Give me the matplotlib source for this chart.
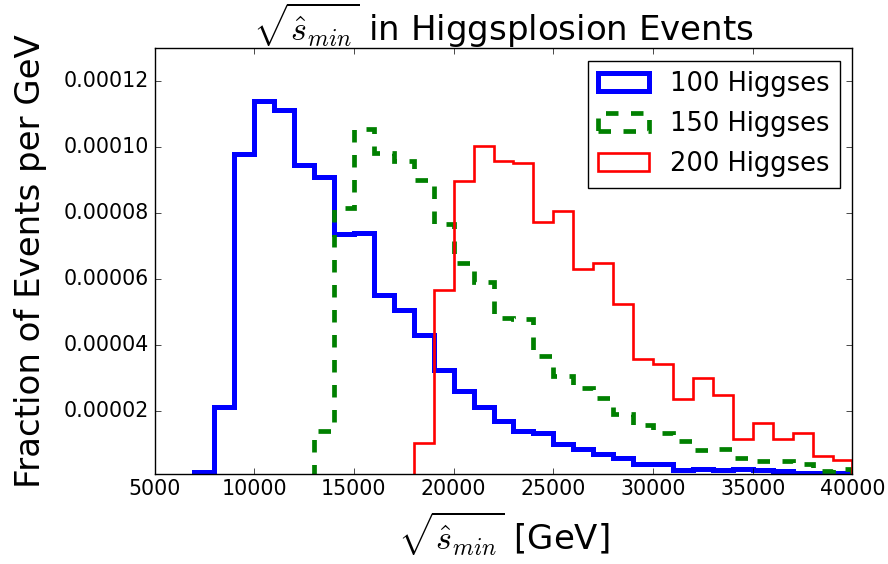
import numpy as np
import matplotlib
matplotlib.use("Agg")
import matplotlib.pyplot as plt

plt.style.use("classic")
plt.rcParams["lines.scale_dashes"] = False

# bin edges (GeV) and heights
edges_100 = np.arange(7000, 41000, 1000)
vals_100 = [1.5e-6, 2.12e-5, 9.80e-5, 1.139e-4, 1.112e-4, 9.45e-5, 9.09e-5,
            7.36e-5, 7.40e-5, 5.52e-5, 5.07e-5, 4.31e-5, 3.23e-5, 2.61e-5,
            2.12e-5, 1.70e-5, 1.41e-5, 1.33e-5, 9.9e-6, 8.4e-6, 6.9e-6,
            5.8e-6, 4.0e-6, 4.0e-6, 2.2e-6, 2.5e-6, 2.0e-6, 2.5e-6, 2.2e-6,
            1.7e-6, 1.3e-6, 1.2e-6, 1.3e-6]

edges_150 = np.arange(13000, 41000, 1000)
vals_150 = [1.41e-5, 8.14e-5, 1.053e-4, 9.82e-5, 9.56e-5, 9.0e-5, 7.67e-5,
            6.5e-5, 5.91e-5, 4.81e-5, 4.78e-5, 3.68e-5, 3.07e-5, 2.71e-5,
            2.41e-5, 1.90e-5, 1.59e-5, 1.34e-5, 1.09e-5, 8.3e-6, 8.6e-6,
            5.8e-6, 4.8e-6, 4.8e-6, 4.1e-6, 1.9e-6, 2.3e-6]

edges_200 = np.arange(18000, 41000, 1000)
vals_200 = [1.03e-5, 5.68e-5, 8.98e-5, 1.002e-4, 9.59e-5, 9.51e-5, 7.74e-5,
            8.06e-5, 6.29e-5, 6.49e-5, 5.25e-5, 3.59e-5, 3.42e-5, 2.37e-5,
            3.0e-5, 2.48e-5, 1.14e-5, 1.64e-5, 1.14e-5, 1.34e-5, 6.3e-6,
            5.3e-6]

fig = plt.figure(figsize=(8.88, 5.64), dpi=100, facecolor="white")
ax = fig.add_axes([0.174, 0.16, 0.786, 0.755])

ax.hist(edges_100[:-1], bins=edges_100, weights=vals_100, histtype="step",
        color="b", linewidth=3.6, label="100 Higgses")
ax.hist(edges_150[:-1], bins=edges_150, weights=vals_150, histtype="step",
        color="g", linewidth=3.4, linestyle=(0, (9, 9)), label="150 Higgses")
ax.hist(edges_200[:-1], bins=edges_200, weights=vals_200, histtype="step",
        color="r", linewidth=1.9, label="200 Higgses")

ax.set_xlim(5000, 40000)
ax.set_ylim(1e-6, 1.3e-4)
ax.set_yticks([2e-5, 4e-5, 6e-5, 8e-5, 1e-4, 1.2e-4])
ax.set_yticklabels(["0.00002", "0.00004", "0.00006", "0.00008", "0.00010", "0.00012"])
ax.tick_params(labelsize=14.8)

ax.set_title(r"$\sqrt{\hat{s}_{min}}$ in Higgsplosion Events", fontsize=24.5)
ax.set_xlabel(r"$\sqrt{\hat{s}_{min}}$ [GeV]", fontsize=24.5, labelpad=7)
ax.set_ylabel("Fraction of Events per GeV", fontsize=24.5, labelpad=12)

ax.legend(loc="upper right", fontsize=18.5, labelspacing=0.55)

fig.savefig("out.png", dpi=100, facecolor="white")
